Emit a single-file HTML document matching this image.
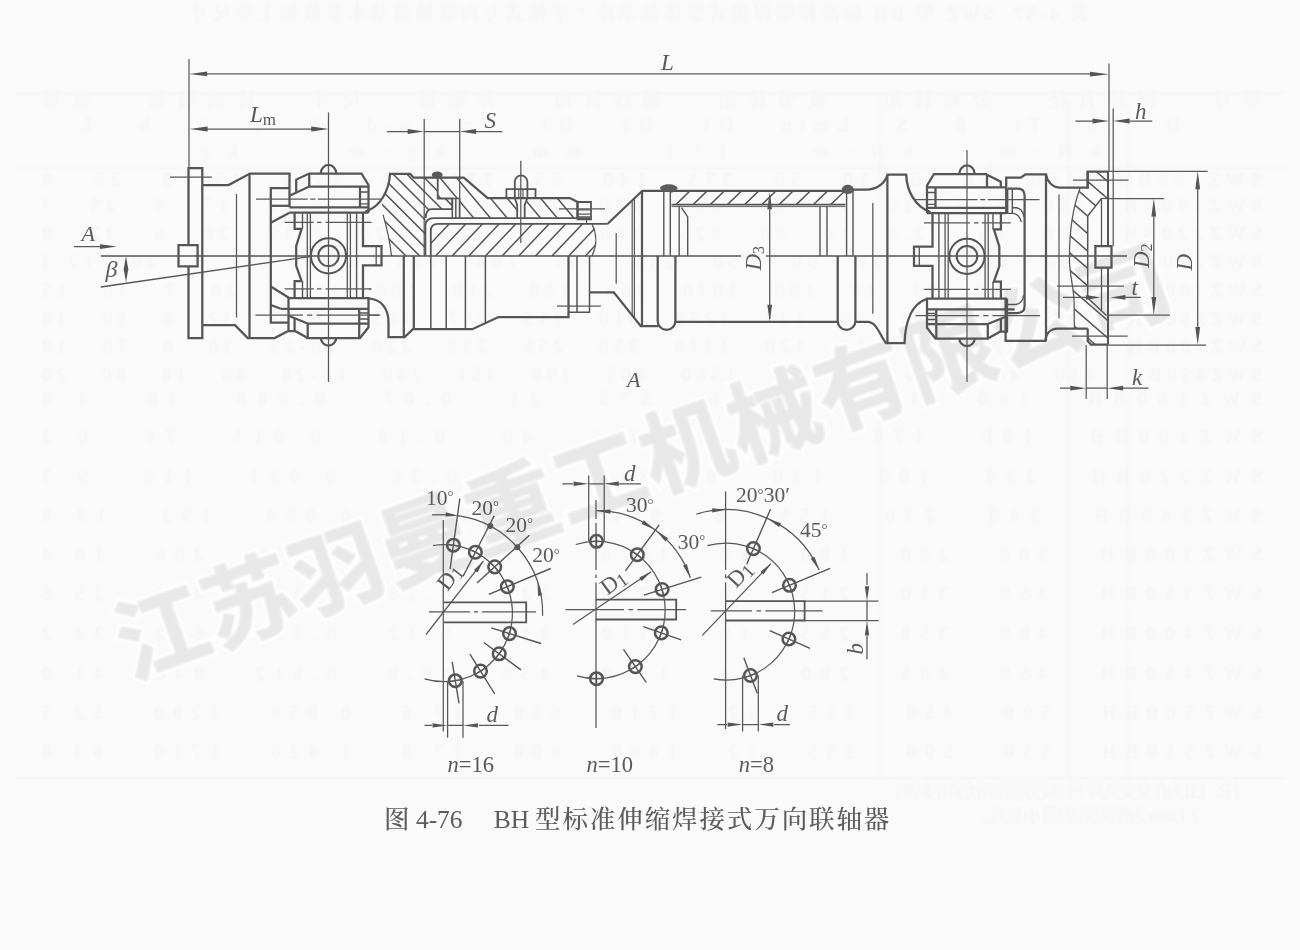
<!DOCTYPE html>
<html lang="zh">
<head>
<meta charset="utf-8">
<title>图 4-76 BH 型标准伸缩焊接式万向联轴器</title>
<style>
html,body{margin:0;padding:0;background:#fafafa;}
body{width:1300px;height:950px;overflow:hidden;position:relative;font-family:"Liberation Serif","Noto Serif CJK SC",serif;}
svg{position:absolute;left:0;top:0;display:block;}
svg text{font-family:"Liberation Serif","Noto Serif CJK SC",serif;fill:#5a5a5a;}
svg .bleed text{fill:#f4f4f4;}
.wm{font-family:"Liberation Sans","Noto Sans CJK SC",sans-serif;font-weight:bold;}
</style>
</head>
<body>
<svg width="1300" height="950" viewBox="0 0 1300 950" fill="none" stroke-linecap="butt" stroke-linejoin="miter">
<defs>
<filter id="soft" x="-2%" y="-2%" width="104%" height="104%"><feGaussianBlur stdDeviation="0.62"/></filter>
<filter id="bleedblur" x="-2%" y="-10%" width="104%" height="120%"><feGaussianBlur stdDeviation="1.1"/></filter>
<filter id="wmblur" x="-5%" y="-20%" width="110%" height="140%"><feGaussianBlur stdDeviation="0.8"/></filter>
<clipPath id="c1"><path d="M430.8,256V231Q430.8,223.8 438,223.8H592.3C597.5,234 597.5,246 593,256Z" clip-rule="evenodd"/></clipPath><clipPath id="c2"><path d="M381.5,199.5C386,193 389.5,184 390,173.8H410L413.8,177.7H437.7V198.5H452.3V209.2H431.5Q426,209.2 425.6,218L425.4,226V256H391.5C390,242 387,228 383,214.6Z" clip-rule="evenodd"/></clipPath><clipPath id="c3"><path d="M437.7,177.7H463.8L487.7,198H570L577.5,202V218.2H459.5V198.5H437.7ZM514.8,198H527.4L524.7,205V218.2H517.2V205Z" clip-rule="evenodd"/></clipPath><clipPath id="c4"><path d="M671.5,191.2H845.4V204.6H671.5Z" clip-rule="evenodd"/></clipPath><clipPath id="c5"><path d="M1087.7,171.5H1108V198.5H1101.5L1087.7,216V297.5L1106.5,315.5H1108V344.6H1091L1087.7,341V328.5H1074.6C1074,320 1074.4,312 1074,300C1073.5,288 1070,275 1069.5,262C1069,235 1072,210 1080,188.2H1087.7Z" clip-rule="evenodd"/></clipPath>
</defs>
<rect x="0" y="0" width="1300" height="950" fill="#fafafa" stroke="none"/>
<g filter="url(#bleedblur)" class="bleed"><path d="M14,93H1286M14,168H1286M14,778H1286M880,93V778M990,100V778M1068,100V778M1128,100V778" stroke="#f4f4f4" stroke-width="1.2"/><text x="0" y="0" font-size="19" transform="translate(1090,20) scale(-1,1)" xml:space="preserve" textLength="900">表 4-57  SWZ 型 BH 标准伸缩焊接式整体轴承座十字轴式万向联轴器基本参数和主要尺寸</text><text x="0" y="0" font-size="19" transform="translate(1262,107) scale(-1,1)" xml:space="preserve" textLength="1220">型号   回转直径   公称转矩   疲劳转矩   轴线折角   伸缩量   尺寸   转动惯量   质量</text><text x="0" y="0" font-size="19" transform="translate(1180,131) scale(-1,1)" xml:space="preserve" textLength="1100">D   Tn   Tf   β   S   Lmin   D1   D2   D3   Lm   n-d   k   t   b   h   L</text><text x="0" y="0" font-size="19" transform="translate(1100,157) scale(-1,1)" xml:space="preserve" textLength="900">kN·m   kN·m   (°)   mm   kg·m²   kg</text><text x="0" y="0" font-size="19" transform="translate(1262,186) scale(-1,1)" xml:space="preserve" textLength="1220">SWZ160BH   160   16   8   10   50   575   140   95   114   85   6-13   15   5   20   6</text><text x="0" y="0" font-size="19" transform="translate(1262,212) scale(-1,1)" xml:space="preserve" textLength="1220">SWZ190BH   190   31.5   16   10   60   685   170   115   133   105   8-17   17   5   25   7</text><text x="0" y="0" font-size="19" transform="translate(1262,240) scale(-1,1)" xml:space="preserve" textLength="1220">SWZ220BH   220   45   22.4   10   80   825   190   130   159   120   8-17   20   6   32   9</text><text x="0" y="0" font-size="19" transform="translate(1262,268) scale(-1,1)" xml:space="preserve" textLength="1220">SWZ260BH   260   80   40   10   90   950   230   155   194   140   8-19   25   6   40   12.5</text><text x="0" y="0" font-size="19" transform="translate(1262,297) scale(-1,1)" xml:space="preserve" textLength="1220">SWZ300BH   300   125   63   10   100   1070   260   180   219   160   10-23   28   7   40   15</text><text x="0" y="0" font-size="19" transform="translate(1262,325) scale(-1,1)" xml:space="preserve" textLength="1220">SWZ350BH   350   200   100   10   120   1250   310   215   267   185   10-23   32   8   50   16</text><text x="0" y="0" font-size="19" transform="translate(1262,353) scale(-1,1)" xml:space="preserve" textLength="1220">SWZ400BH   400   280   140   10   120   1370   358   255   299   220   10-25   36   8   70   18</text><text x="0" y="0" font-size="19" transform="translate(1262,381) scale(-1,1)" xml:space="preserve" textLength="1220">SWZ450BH   450   400   200   10   130   1560   405   290   351   240   12-28   40   10   80   20</text><text x="0" y="0" font-size="19" transform="translate(1262,405) scale(-1,1)" xml:space="preserve" textLength="1220">SWZ160BH   160   140   95   6   575   25   0.07   0.008   48   4.6</text><text x="0" y="0" font-size="19" transform="translate(1262,443) scale(-1,1)" xml:space="preserve" textLength="1220">SWZ190BH   190   170   115   8   685   40   0.18   0.015   76   6.2</text><text x="0" y="0" font-size="19" transform="translate(1262,483) scale(-1,1)" xml:space="preserve" textLength="1220">SWZ220BH   220   190   130   8   825   56   0.36   0.031   118   9.5</text><text x="0" y="0" font-size="19" transform="translate(1262,522) scale(-1,1)" xml:space="preserve" textLength="1220">SWZ260BH   260   230   155   8   950   90   0.82   0.064   192   13.8</text><text x="0" y="0" font-size="19" transform="translate(1262,561) scale(-1,1)" xml:space="preserve" textLength="1220">SWZ300BH   300   260   180   10   1070   140   1.56   0.110   286   18.4</text><text x="0" y="0" font-size="19" transform="translate(1262,600) scale(-1,1)" xml:space="preserve" textLength="1220">SWZ350BH   350   310   215   10   1250   224   3.28   0.212   456   25.6</text><text x="0" y="0" font-size="19" transform="translate(1262,640) scale(-1,1)" xml:space="preserve" textLength="1220">SWZ400BH   400   358   255   10   1370   315   6.12   0.394   662   34.2</text><text x="0" y="0" font-size="19" transform="translate(1262,680) scale(-1,1)" xml:space="preserve" textLength="1220">SWZ450BH   450   405   290   12   1560   450   10.9   0.612   948   41.0</text><text x="0" y="0" font-size="19" transform="translate(1262,719) scale(-1,1)" xml:space="preserve" textLength="1220">SWZ500BH   500   450   315   12   1710   630   17.6   0.958   1290   52.5</text><text x="0" y="0" font-size="19" transform="translate(1262,758) scale(-1,1)" xml:space="preserve" textLength="1220">SWZ550BH   550   500   355   12   1880   800   27.8   1.420   1710   63.8</text><text x="0" y="0" font-size="19" transform="translate(1240,798) scale(-1,1)" xml:space="preserve" textLength="360">注：1. Tf 为在交变负荷下按疲劳强度所允许的转矩。</text><text x="0" y="0" font-size="19" transform="translate(1200,822) scale(-1,1)" xml:space="preserve" textLength="230">2. Lmin 为缩短后的最小长度。</text></g>
<g filter="url(#wmblur)">
<text class="wm" x="0" y="0" font-size="91" letter-spacing="1.8" transform="translate(130,679) rotate(-19.5)" style="fill:#e8e8e8;stroke:#ffffff;stroke-width:7;paint-order:stroke fill;">江苏羽曼重工机械有限公司</text>
<text class="wm" x="0" y="0" font-size="91" letter-spacing="1.8" transform="translate(130,679) rotate(-19.5)" style="fill:#e8e8e8;stroke:#e8e8e8;stroke-width:1.6;">江苏羽曼重工机械有限公司</text>
</g>
<g filter="url(#soft)">
<path d="M188.5,245V168H202.3V338H188.5V266.3" stroke="#555555" stroke-width="2.25" />
<path d="M178.5,245H197.6V266.3H178.5Z" stroke="#555555" stroke-width="2.25" />
<path d="M189,59V168" stroke="#585858" stroke-width="1.25" />
<path d="M170,177H212" stroke="#585858" stroke-width="1.25" />
<path d="M202.3,185H228.5L250,173.5H289.5V207.3" stroke="#555555" stroke-width="2.25" />
<path d="M202.3,325.2H235L247.7,338H274.6L287.7,331.2" stroke="#555555" stroke-width="2.25" />
<path d="M249.5,173.5V338" stroke="#555555" stroke-width="2.25" />
<path d="M236.5,194V317.5" stroke="#585858" stroke-width="1.25" />
<path d="M289.5,188H270.8V322.7H288.5" stroke="#555555" stroke-width="2.25" />
<path d="M270.8,205.8H289.5" stroke="#555555" stroke-width="2.25" />
<path d="M270.8,222.7L289.5,212.7" stroke="#555555" stroke-width="2.25" />
<path d="M270.8,286.5L289.2,298" stroke="#555555" stroke-width="2.25" />
<path d="M270.8,305L280.8,308.8" stroke="#555555" stroke-width="2.25" />
<path d="M296.2,192.6V179.6L309.2,173.5H361.5L368.5,185V212.7" stroke="#555555" stroke-width="2.25" />
<path d="M289.5,195.8L309.2,186.5H368.5" stroke="#555555" stroke-width="2.25" />
<path d="M309.2,173.5V186.5" stroke="#555555" stroke-width="2.25" />
<path d="M289.5,207.3H368.5" stroke="#555555" stroke-width="2.25" />
<path d="M289.5,212.7H368.5" stroke="#555555" stroke-width="2.25" />
<path d="M360,186.5V207.3" stroke="#555555" stroke-width="2.25" />
<path d="M360,192H368.5M360,203.8H368.5" stroke="#555555" stroke-width="1.3" />
<path d="M320.8,173.5A7.7,8.5 0 0 1 336.2,173.5" stroke="#555555" stroke-width="2.25" />
<path d="M288.5,298H368.5V327.3L360,338H307.7V323.5" stroke="#555555" stroke-width="2.25" />
<path d="M280.8,308.8H368.5" stroke="#555555" stroke-width="2.25" />
<path d="M307.7,323.5H368.5" stroke="#555555" stroke-width="2.25" />
<path d="M359.2,308.8V338" stroke="#555555" stroke-width="2.25" />
<path d="M288.5,315.8L307.7,323.5" stroke="#555555" stroke-width="2.25" />
<path d="M288.5,298V331.2H295.4L307.7,338" stroke="#555555" stroke-width="2.25" />
<path d="M294.6,318.2V331.2" stroke="#555555" stroke-width="2.25" />
<path d="M359.2,313H368.5M359.2,319H368.5" stroke="#555555" stroke-width="1.3" />
<path d="M320.8,338A7.7,7.5 0 0 0 336.2,338" stroke="#555555" stroke-width="2.25" />
<path d="M307.3,212.7V298" stroke="#555555" stroke-width="1.3" />
<path d="M310.4,212.7V298" stroke="#555555" stroke-width="1.3" />
<path d="M347.3,212.7V298" stroke="#555555" stroke-width="1.3" />
<path d="M350.4,212.7V298" stroke="#555555" stroke-width="1.3" />
<path d="M356.6,212.7V298" stroke="#555555" stroke-width="1.4" />
<path d="M294.6,212.7V228.8H301.6L296.2,245.8V265.8L301.6,281.2H294.6V298" stroke="#555555" stroke-width="2.25" />
<path d="M302.5,212.7V228.8M302.5,281.2V298" stroke="#555555" stroke-width="1.4" />
<path d="M363,212.7V246.2H381.5V265.4H363V298" stroke="#555555" stroke-width="2.25" />
<path d="M376.2,246.2V265.4" stroke="#555555" stroke-width="1.3" />
<circle cx="328.5" cy="255.8" r="17.6" stroke="#555555" stroke-width="2"/>
<circle cx="328.5" cy="255.8" r="10.3" stroke="#555555" stroke-width="2"/>
<path d="M256,199.2H307.7M310.2,199.2H315.4M317.9,199.2H381" stroke="#585858" stroke-width="1.25" />
<path d="M284.6,222.4H313.8M317,222.4H321.5M325.5,222.4H371.5" stroke="#585858" stroke-width="1.25" />
<path d="M284.6,288.8H313.8M317,288.8H321.5M325.5,288.8H371.5" stroke="#585858" stroke-width="1.25" />
<path d="M255.4,315H303M307,315H312.3M316.5,315H380" stroke="#585858" stroke-width="1.25" />
<path d="M328.5,112.5V382" stroke="#585858" stroke-width="1.25" />
<g transform="translate(1295.5,0.5) scale(-1,1)"><path d="M308.5,173.5H361.5L368.5,185V212.7" stroke="#555555" stroke-width="2.25" /><path d="M308.5,173.5V186.8M308.5,174.2L294.7,181.2V186.8" stroke="#555555" stroke-width="2.25" /><path d="M289.3,186.8H368.5" stroke="#555555" stroke-width="2.25" /><path d="M289.5,207.3H368.5" stroke="#555555" stroke-width="2.25" /><path d="M289.5,212.7H368.5" stroke="#555555" stroke-width="2.25" /><path d="M360,186.5V207.3" stroke="#555555" stroke-width="2.25" /><path d="M360,192H368.5M360,203.8H368.5" stroke="#555555" stroke-width="1.3" /><path d="M320.8,173.5A7.7,8.5 0 0 1 336.2,173.5" stroke="#555555" stroke-width="2.25" /><path d="M288.5,298H368.5V327.3L360,338H307.7V323.5" stroke="#555555" stroke-width="2.25" /><path d="M280.8,308.8H368.5" stroke="#555555" stroke-width="2.25" /><path d="M307.7,323.5H368.5" stroke="#555555" stroke-width="2.25" /><path d="M359.2,308.8V338" stroke="#555555" stroke-width="2.25" /><path d="M288.5,315.8L307.7,323.5" stroke="#555555" stroke-width="2.25" /><path d="M288.5,298V331.2H295.4L307.7,338" stroke="#555555" stroke-width="2.25" /><path d="M294.6,318.2V331.2" stroke="#555555" stroke-width="2.25" /><path d="M359.2,313H368.5M359.2,319H368.5" stroke="#555555" stroke-width="1.3" /><path d="M320.8,338A7.7,7.5 0 0 0 336.2,338" stroke="#555555" stroke-width="2.25" /><path d="M307.3,212.7V298" stroke="#555555" stroke-width="1.3" /><path d="M310.4,212.7V298" stroke="#555555" stroke-width="1.3" /><path d="M347.3,212.7V298" stroke="#555555" stroke-width="1.3" /><path d="M350.4,212.7V298" stroke="#555555" stroke-width="1.3" /><path d="M356.6,212.7V298" stroke="#555555" stroke-width="1.4" /><path d="M294.6,212.7V228.8H301.6L296.2,245.8V265.8L301.6,281.2H294.6V298" stroke="#555555" stroke-width="2.25" /><path d="M302.5,212.7V228.8M302.5,281.2V298" stroke="#555555" stroke-width="1.4" /><path d="M363,212.7V246.2H381.5V265.4H363V298" stroke="#555555" stroke-width="2.25" /><path d="M376.2,246.2V265.4" stroke="#555555" stroke-width="1.3" /><circle cx="328.5" cy="255.8" r="17.6" stroke="#555555" stroke-width="2"/><circle cx="328.5" cy="255.8" r="10.3" stroke="#555555" stroke-width="2"/><path d="M256,199.2H307.7M310.2,199.2H315.4M317.9,199.2H381" stroke="#585858" stroke-width="1.25" /><path d="M284.6,222.4H313.8M317,222.4H321.5M325.5,222.4H371.5" stroke="#585858" stroke-width="1.25" /><path d="M284.6,288.8H313.8M317,288.8H321.5M325.5,288.8H371.5" stroke="#585858" stroke-width="1.25" /><path d="M255.4,315H303M307,315H312.3M316.5,315H380" stroke="#585858" stroke-width="1.25" /></g>
<path d="M967,150V382" stroke="#585858" stroke-width="1.25" />
<path d="M365.4,211.5C380.8,207 389.2,190 390,173.8H410L413.8,177.7H463.8L487.7,198H570L577.5,202V218.2" stroke="#555555" stroke-width="2.25" />
<path d="M383,214.6C387,228 390,242 391.5,256" stroke="#585858" stroke-width="1.25" />
<path d="M591,218.2H433.8Q425.4,218.2 425.4,226V256" stroke="#555555" stroke-width="1.8" />
<path d="M607.7,223.8H438Q430.8,223.8 430.8,231V256" stroke="#555555" stroke-width="1.8" />
<path d="M425.6,218Q426,209.2 431.5,209.2H452.3V198.5H437.7V177.7" stroke="#555555" stroke-width="1.8" />
<path d="M452.3,198.5H459.5V218.2M452.3,198.5V218.2M455.8,198.5V218.2" stroke="#555555" stroke-width="1.5" />
<path d="M424.2,119V256" stroke="#585858" stroke-width="1.25" />
<path d="M459.7,119V217.7" stroke="#585858" stroke-width="1.25" />
<ellipse cx="437.2" cy="175" rx="5.4" ry="3.4" fill="#5a5a5a" stroke="none"/>
<path d="M506.4,198V189.2H535.5V198" stroke="#555555" stroke-width="1.8" />
<path d="M514.8,198V182A6.3,6.6 0 0 1 527.4,182V198L524.7,205V218.2M517.2,218.2V205L514.8,198" stroke="#555555" stroke-width="1.8" />
<path d="M518.8,189.2V198M523,189.2V198" stroke="#585858" stroke-width="1.1" />
<path d="M520.8,160.8V243" stroke="#585858" stroke-width="1.25" />
<path d="M577.5,202H591V219.3H577.5Z" stroke="#555555" stroke-width="1.8" />
<path d="M577.5,209.8H590M577.5,214.2H590M577.5,216.8H590" stroke="#585858" stroke-width="1.2" />
<path d="M586.6,219.3V223.8" stroke="#585858" stroke-width="1.2" />
<path d="M559,208.9H605" stroke="#585858" stroke-width="1.25" />
<path d="M592,224C597,234 597,246 592,256" stroke="#585858" stroke-width="1.25" />
<path d="M402.2,256.0L432.8,223.8M418.8,256.0L449.4,223.8M435.5,256.0L466.0,223.8M452.1,256.0L482.7,223.8M468.8,256.0L499.3,223.8M485.4,256.0L516.0,223.8M502.1,256.0L532.6,223.8M518.7,256.0L549.3,223.8M535.4,256.0L565.9,223.8M552.0,256.0L582.6,223.8M568.7,256.0L599.2,223.8M585.3,256.0L615.9,223.8M602.0,256.0L632.5,223.8M618.6,256.0L649.2,223.8" stroke="#555555" stroke-width="1.5" clip-path="url(#c1)"/>
<path d="M251.0,170.0L341.0,260.0M264.8,170.0L354.8,260.0M278.6,170.0L368.6,260.0M292.4,170.0L382.4,260.0M306.2,170.0L396.2,260.0M320.0,170.0L410.0,260.0M333.8,170.0L423.8,260.0M347.6,170.0L437.6,260.0M361.4,170.0L451.4,260.0M375.2,170.0L465.2,260.0M389.0,170.0L479.0,260.0M402.8,170.0L492.8,260.0M416.6,170.0L506.6,260.0M430.4,170.0L520.4,260.0M444.2,170.0L534.2,260.0M458.0,170.0L548.0,260.0M471.8,170.0L561.8,260.0M485.6,170.0L575.6,260.0M499.4,170.0L589.4,260.0M513.2,170.0L603.2,260.0M527.0,170.0L617.0,260.0M540.8,170.0L630.8,260.0M554.6,170.0L644.6,260.0" stroke="#555555" stroke-width="1.5" clip-path="url(#c2)"/>
<path d="M266.4,170.0L342.0,260.0M283.1,170.0L358.7,260.0M299.8,170.0L375.4,260.0M316.5,170.0L392.1,260.0M333.2,170.0L408.8,260.0M349.9,170.0L425.5,260.0M366.6,170.0L442.2,260.0M383.3,170.0L458.9,260.0M400.0,170.0L475.6,260.0M416.7,170.0L492.3,260.0M433.4,170.0L509.0,260.0M450.1,170.0L525.7,260.0M466.8,170.0L542.4,260.0M483.5,170.0L559.1,260.0M500.2,170.0L575.8,260.0M516.9,170.0L592.5,260.0M533.6,170.0L609.2,260.0M550.3,170.0L625.9,260.0M567.0,170.0L642.6,260.0M583.7,170.0L659.3,260.0M600.4,170.0L676.0,260.0M617.1,170.0L692.7,260.0M633.8,170.0L709.4,260.0M650.5,170.0L726.1,260.0" stroke="#555555" stroke-width="1.5" clip-path="url(#c3)"/>
<path d="M369.2,298.5C381,299.5 388.5,308 388.5,322.3V337H404.6L413,329.2H472.3L498.5,317H568.5V256" stroke="#555555" stroke-width="2.25" />
<path d="M403.8,256V337M413.8,256V329.2" stroke="#555555" stroke-width="2.25" />
<path d="M430.8,256V329.2M446.2,256V329.2M465.4,256V329.2M485.4,256V323" stroke="#555555" stroke-width="1.5" />
<path d="M568.5,312.3H589.5V256" stroke="#555555" stroke-width="1.5" />
<path d="M577,256V312.3" stroke="#555555" stroke-width="1.5" />
<path d="M557,306.2H600.8" stroke="#585858" stroke-width="1.25" />
<path d="M369,289.2H371M369,315H379" stroke="#585858" stroke-width="1.25" />
<path d="M589.5,292.3H613.8L640.8,326.2H658.5" stroke="#555555" stroke-width="2.25" />
<path d="M616.2,233V283.8" stroke="#585858" stroke-width="1.25" />
<path d="M632.2,200.5V315.5M634.4,198.5V318" stroke="#585858" stroke-width="1.2" />
<path d="M642,190.8V326.2" stroke="#555555" stroke-width="2.25" />
<path d="M607.7,223.8L642.3,190.8H853" stroke="#555555" stroke-width="2.25" />
<path d="M671.5,204.6H845.4" stroke="#555555" stroke-width="1.6" />
<path d="M671.5,206.6H845.4" stroke="#585858" stroke-width="0.9" />
<path d="M663.8,191V256M670.3,191V256" stroke="#555555" stroke-width="1.4" />
<path d="M679.2,206V256" stroke="#555555" stroke-width="1.4" />
<path d="M681.5,207.7L687.7,216.9V256" stroke="#555555" stroke-width="1.4" />
<path d="M820,206V256M827,206V256" stroke="#555555" stroke-width="1.4" />
<path d="M846.6,191V256M853,190V256" stroke="#555555" stroke-width="1.4" />
<ellipse cx="668.8" cy="188" rx="8.8" ry="3.7" fill="#5c5c5c" stroke="none"/>
<ellipse cx="847.8" cy="189.4" rx="6" ry="4.6" fill="#5c5c5c" stroke="none"/>
<path d="M658.7,204.6L672.5,191.2M675.9,204.6L689.7,191.2M693.1,204.6L706.9,191.2M710.3,204.6L724.1,191.2M727.5,204.6L741.3,191.2M744.7,204.6L758.5,191.2M761.9,204.6L775.7,191.2M779.1,204.6L792.9,191.2M796.3,204.6L810.1,191.2M813.5,204.6L827.3,191.2M830.7,204.6L844.5,191.2M847.9,204.6L861.7,191.2" stroke="#555555" stroke-width="1.5" clip-path="url(#c4)"/>
<path d="M657.7,256V321A8.85,8.85 0 0 0 675.4,321V256" stroke="#555555" stroke-width="2.25" />
<path d="M675.4,321.8H837.7" stroke="#555555" stroke-width="2.25" />
<path d="M837.7,256V321A8.85,8.85 0 0 0 855.4,321V256" stroke="#555555" stroke-width="2.25" />
<path d="M769.7,195V319" stroke="#585858" stroke-width="1.25" />
<path d="M769.7,192.3L772.1,209.3L767.3,209.3Z" fill="#555555" stroke="none"/>
<path d="M769.7,321.8L767.3,304.8L772.1,304.8Z" fill="#555555" stroke="none"/>
<path d="M853,189.7H866C878,189 884.5,184 887.7,174.6H906.2C906.6,190 914.7,207 930.5,212" stroke="#555555" stroke-width="2.25" />
<path d="M887.4,174.6V343" stroke="#555555" stroke-width="2.25" />
<path d="M872.8,203V313.8" stroke="#585858" stroke-width="1.25" />
<path d="M855.4,321.8H867.7C877,322 880,336 886,343H904.6C905,322 912,303 927,299" stroke="#555555" stroke-width="2.25" />
<path d="M1006.2,213.8V177.7H1020.8L1025.4,174.3H1046C1047,181 1052,187.7 1060.8,187.7H1087.7V171.5H1108" stroke="#555555" stroke-width="2.25" />
<path d="M1046,174.3V340.8" stroke="#555555" stroke-width="2.25" />
<path d="M1059,194.6V318.5" stroke="#585858" stroke-width="1.25" />
<path d="M1007.7,188.5H1018Q1024.6,188.5 1024.6,196V306Q1024.6,313 1017,313H1005.6" stroke="#555555" stroke-width="2.25" />
<path d="M1007.7,188.5V213.8M1012.3,188.5V213.8" stroke="#555555" stroke-width="1.4" />
<path d="M1012.3,207.7H1016.5Q1022.5,208.5 1024,217" stroke="#555555" stroke-width="1.4" />
<path d="M1006.2,213.4H1013Q1019,214 1021.5,222" stroke="#555555" stroke-width="1.4" />
<path d="M1006,304.5H1016Q1022.5,303.5 1023.8,295" stroke="#555555" stroke-width="1.4" />
<path d="M1005.6,299V340.8H1045.4C1046,334 1050,328.5 1057.7,328.5H1087.7" stroke="#555555" stroke-width="2.25" />
<path d="M1087.7,171.5V188.5" stroke="#555555" stroke-width="2.25" />
<path d="M1087.7,216V297.5" stroke="#555555" stroke-width="1.5" />
<path d="M1087.7,328.5V341L1091,344.6H1108" stroke="#555555" stroke-width="2.25" />
<path d="M1108,171.5V246M1108,267.7V344.6" stroke="#555555" stroke-width="2.0" />
<path d="M1101.5,198.5L1087.7,216" stroke="#555555" stroke-width="1.5" />
<path d="M1086.6,297L1106.5,315.5" stroke="#555555" stroke-width="1.5" />
<path d="M1101.5,198.5V246M1101.5,267.7V311" stroke="#555555" stroke-width="1.3" />
<path d="M1101.5,198.5H1108" stroke="#585858" stroke-width="1.2" />
<path d="M1080,188.2C1072,210 1069,235 1069.5,262C1070,275 1073.5,288 1074,300C1074.4,312 1074,320 1074.6,328.5" stroke="#585858" stroke-width="1.25" />
<path d="M1095.4,246H1111.5V267.7H1095.4Z" stroke="#555555" stroke-width="2.25" />
<path d="M1073,180H1128.5" stroke="#585858" stroke-width="1.25" />
<path d="M1072,336H1127.7" stroke="#585858" stroke-width="1.25" />
<path d="M688.8,165.0L901.5,350.0M708.8,165.0L921.5,350.0M728.8,165.0L941.5,350.0M748.8,165.0L961.5,350.0M768.8,165.0L981.5,350.0M788.8,165.0L1001.5,350.0M808.8,165.0L1021.5,350.0M828.8,165.0L1041.5,350.0M848.8,165.0L1061.5,350.0M868.8,165.0L1081.5,350.0M888.8,165.0L1101.5,350.0M908.8,165.0L1121.5,350.0M928.8,165.0L1141.5,350.0M948.8,165.0L1161.5,350.0M968.8,165.0L1181.5,350.0M988.8,165.0L1201.5,350.0M1008.8,165.0L1221.5,350.0M1028.8,165.0L1241.5,350.0M1048.8,165.0L1261.5,350.0M1068.8,165.0L1281.5,350.0M1088.8,165.0L1301.5,350.0M1108.8,165.0L1321.5,350.0M1128.8,165.0L1341.5,350.0M1148.8,165.0L1361.5,350.0M1168.8,165.0L1381.5,350.0M1188.8,165.0L1401.5,350.0M1208.8,165.0L1421.5,350.0M1228.8,165.0L1441.5,350.0M1248.8,165.0L1461.5,350.0M1268.8,165.0L1481.5,350.0M1288.8,165.0L1501.5,350.0M1308.8,165.0L1521.5,350.0" stroke="#555555" stroke-width="1.5" clip-path="url(#c5)"/>
<path d="M100.8,256H741M766,256H1127" stroke="#555555" stroke-width="1.3" />
<path d="M100.8,287L311,256.4" stroke="#555555" stroke-width="1.4" />
<path d="M73.8,246.6H104" stroke="#585858" stroke-width="1.25" />
<path d="M117.0,246.6L100.0,249.0L100.0,244.2Z" fill="#555555" stroke="none"/>
<text x="81.5" y="240.8" font-size="22" font-style="italic" text-anchor="start" >A</text>
<text x="105.5" y="276.5" font-size="24" font-style="italic" text-anchor="start" >β</text>
<path d="M126,256L128.3,269.2L126,282.3L123.7,269.2Z" fill="#555555" stroke="none"/>
<path d="M207,73.9H1091" stroke="#585858" stroke-width="1.25" />
<path d="M189.2,73.9L207.2,71.5L207.2,76.3Z" fill="#555555" stroke="none"/>
<path d="M1109.0,74.2L1090.0,76.6L1090.0,71.8Z" fill="#555555" stroke="none"/>
<text x="661.0" y="70.0" font-size="23" font-style="italic" text-anchor="start" >L</text>
<path d="M207,129H312" stroke="#585858" stroke-width="1.25" />
<path d="M189.6,129.0L207.6,126.6L207.6,131.4Z" fill="#555555" stroke="none"/>
<path d="M329.2,129.0L311.2,131.4L311.2,126.6Z" fill="#555555" stroke="none"/>
<text x="250.0" y="122.3" font-size="23" font-style="italic" text-anchor="start" >L<tspan font-style="normal" font-size="17" dy="2.5">m</tspan></text>
<path d="M387,131.5H408M441,131.5H443M476,131.5H502.3M424.2,131.5H459.7" stroke="#585858" stroke-width="1.25" />
<path d="M424.2,131.5L407.7,133.9L407.7,129.1Z" fill="#555555" stroke="none"/>
<path d="M459.7,131.5L476.2,129.1L476.2,133.9Z" fill="#555555" stroke="none"/>
<text x="484.5" y="127.5" font-size="23" font-style="italic" text-anchor="start" >S</text>
<path d="M1109,63.5V171.5" stroke="#585858" stroke-width="1.25" />
<path d="M1113.2,108.5V246" stroke="#585858" stroke-width="1.25" />
<path d="M1075.4,121H1093M1130,121H1152.3" stroke="#585858" stroke-width="1.25" />
<path d="M1109.0,121.0L1092.5,123.4L1092.5,118.6Z" fill="#555555" stroke="none"/>
<path d="M1113.2,121.0L1129.7,118.6L1129.7,123.4Z" fill="#555555" stroke="none"/>
<text x="1135.0" y="118.5" font-size="23" font-style="italic" text-anchor="start" >h</text>
<path d="M1108,171.3H1207.7M1108,345H1206" stroke="#585858" stroke-width="1.25" />
<path d="M1197.7,188V328" stroke="#585858" stroke-width="1.25" />
<path d="M1197.7,171.3L1200.1,189.3L1195.3,189.3Z" fill="#555555" stroke="none"/>
<path d="M1197.7,345.0L1195.3,327.0L1200.1,327.0Z" fill="#555555" stroke="none"/>
<text x="1192.0" y="270.5" font-size="23" font-style="italic" text-anchor="start" transform="rotate(-90 1192.0 270.5)" >D</text>
<path d="M1108,198.5H1163.8M1108,315H1170" stroke="#585858" stroke-width="1.25" />
<path d="M1153.8,215V298" stroke="#585858" stroke-width="1.25" />
<path d="M1153.8,198.5L1156.2,216.5L1151.4,216.5Z" fill="#555555" stroke="none"/>
<path d="M1153.8,315.0L1151.4,297.0L1156.2,297.0Z" fill="#555555" stroke="none"/>
<text x="1149.0" y="268.0" font-size="23" font-style="italic" text-anchor="start" transform="rotate(-90 1149.0 268.0)" >D<tspan font-style="normal" font-size="16" dy="3">2</tspan></text>
<path d="M1057,286.2H1124" stroke="#585858" stroke-width="1.25" />
<path d="M1063,297.4H1086M1124,297.4H1140.8" stroke="#585858" stroke-width="1.25" />
<path d="M1100.8,297.4L1085.8,299.8L1085.8,295.0Z" fill="#555555" stroke="none"/>
<path d="M1110.5,297.4L1125.5,295.0L1125.5,299.8Z" fill="#555555" stroke="none"/>
<text x="1131.5" y="294.6" font-size="23" font-style="italic" text-anchor="start" >t</text>
<path d="M1086.2,345V399M1107.2,345V399" stroke="#585858" stroke-width="1.25" />
<path d="M1060,388.2H1070M1123,388.2H1148.5M1086.2,388.2H1107.2" stroke="#585858" stroke-width="1.25" />
<path d="M1086.2,388.2L1070.2,390.6L1070.2,385.8Z" fill="#555555" stroke="none"/>
<path d="M1107.2,388.2L1123.2,385.8L1123.2,390.6Z" fill="#555555" stroke="none"/>
<text x="1132.0" y="385.4" font-size="23" font-style="italic" text-anchor="start" >k</text>
<text x="760.5" y="270.5" font-size="23" font-style="italic" text-anchor="start" transform="rotate(-90 760.5 270.5)" >D<tspan font-style="normal" font-size="16" dy="3">3</tspan></text>
<text x="627.0" y="387.0" font-size="22" font-style="italic" text-anchor="start" >A</text>
<path d="M443.8,602.3H526.2V622.3H443.8" stroke="#555555" stroke-width="1.8" />
<path d="M429,611.8H470M474,611.8H478M482,611.8H536" stroke="#585858" stroke-width="1.25" />
<path d="M443.3,520V731.5" stroke="#585858" stroke-width="1.25" />
<path d="M432.8,545.5A68.5,68.5 0 1 1 424.6,678.8" stroke="#585858" stroke-width="1.25" />
<circle cx="453.4" cy="545.2" r="6.3" stroke="#555555" stroke-width="2.5"/>
<path d="M450.1,569.0L459.8,498.7" stroke="#555555" stroke-width="1.4" />
<path d="M448.6,544.6L458.2,545.9" stroke="#585858" stroke-width="1.25" />
<circle cx="475.4" cy="552.2" r="6.3" stroke="#555555" stroke-width="2.5"/>
<path d="M463.1,576.2L494.2,515.7" stroke="#555555" stroke-width="1.4" />
<path d="M471.1,550.0L479.7,554.4" stroke="#585858" stroke-width="1.25" />
<circle cx="494.7" cy="566.9" r="6.3" stroke="#555555" stroke-width="2.5"/>
<path d="M477.0,583.1L529.4,535.2" stroke="#555555" stroke-width="1.4" />
<path d="M491.4,563.4L497.9,570.5" stroke="#585858" stroke-width="1.25" />
<circle cx="507.3" cy="586.7" r="6.3" stroke="#555555" stroke-width="2.5"/>
<path d="M488.8,594.4L550.7,568.5" stroke="#555555" stroke-width="1.4" />
<path d="M505.4,582.2L509.1,591.1" stroke="#585858" stroke-width="1.25" />
<circle cx="509.5" cy="633.6" r="6.3" stroke="#555555" stroke-width="2.5"/>
<path d="M491.3,627.9L541.0,643.5" stroke="#555555" stroke-width="1.4" />
<path d="M510.9,629.0L508.0,638.2" stroke="#585858" stroke-width="1.25" />
<circle cx="499.2" cy="653.8" r="6.3" stroke="#555555" stroke-width="2.5"/>
<path d="M483.9,642.5L520.9,669.9" stroke="#555555" stroke-width="1.4" />
<path d="M502.0,650.0L496.3,657.7" stroke="#585858" stroke-width="1.25" />
<circle cx="480.5" cy="671.1" r="6.3" stroke="#555555" stroke-width="2.5"/>
<path d="M469.9,654.2L494.8,694.0" stroke="#555555" stroke-width="1.4" />
<path d="M484.6,668.6L476.4,673.7" stroke="#585858" stroke-width="1.25" />
<circle cx="455.3" cy="680.7" r="6.3" stroke="#555555" stroke-width="2.5"/>
<path d="M452.2,661.9L459.0,703.4" stroke="#555555" stroke-width="1.4" />
<path d="M460.0,679.9L450.6,681.5" stroke="#585858" stroke-width="1.25" />
<path d="M457.8,515.6A98.5,98.5 0 0 1 542.6,615.7" stroke="#585858" stroke-width="1.25" />
<path d="M432,514.8H446" stroke="#585858" stroke-width="1.25" />
<path d="M458.7,515.7L445.5,516.4L445.9,512.2Z" fill="#555555" stroke="none"/>
<path d="M537.5,581.8L542.2,595.2L538.1,596.0Z" fill="#555555" stroke="none"/>
<circle cx="490.3" cy="526.1" r="3" fill="#555555" stroke="none"/>
<circle cx="517.3" cy="547.2" r="3" fill="#555555" stroke="none"/>
<path d="M426,634.5L483.5,560.8" stroke="#585858" stroke-width="1.25" />
<path d="M483.5,560.8L477.4,572.4L474.0,569.9Z" fill="#555555" stroke="none"/>
<text x="447.4" y="592.0" font-size="23"  text-anchor="start" transform="rotate(-52 447.4 592.0)" >D<tspan font-size="19" dy="2.5">1</tspan></text>
<text x="426.0" y="504.5" font-size="21.5"  text-anchor="start" >10<tspan font-size="15" dy="-3.5">°</tspan><tspan dy="3.5" font-size="1"> </tspan></text>
<text x="471.5" y="514.6" font-size="21.5"  text-anchor="start" >20<tspan font-size="15" dy="-3.5">°</tspan><tspan dy="3.5" font-size="1"> </tspan></text>
<text x="505.4" y="531.5" font-size="21.5"  text-anchor="start" >20<tspan font-size="15" dy="-3.5">°</tspan><tspan dy="3.5" font-size="1"> </tspan></text>
<text x="532.3" y="562.3" font-size="21.5"  text-anchor="start" >20<tspan font-size="15" dy="-3.5">°</tspan><tspan dy="3.5" font-size="1"> </tspan></text>
<path d="M447.6,681V737.7M463,681V737.7" stroke="#585858" stroke-width="1.25" />
<path d="M424.6,725.4H432M479,725.4H508.5M447.5,725.4H463" stroke="#585858" stroke-width="1.25" />
<path d="M447.5,725.4L432.5,727.6L432.5,723.2Z" fill="#555555" stroke="none"/>
<path d="M463.0,725.4L478.0,723.2L478.0,727.6Z" fill="#555555" stroke="none"/>
<text x="486.5" y="722.3" font-size="23" font-style="italic" text-anchor="start" >d</text>
<text x="447.5" y="771.5" font-size="22.5"  text-anchor="start" ><tspan font-style="italic">n</tspan>=16</text>
<path d="M595.7,599.7H676.2V619.5H595.7" stroke="#555555" stroke-width="1.8" />
<path d="M565.4,609.5H624M628.5,609.5H633M637.5,609.5H686" stroke="#585858" stroke-width="1.25" />
<path d="M596,500V519M596,523V570M596,574.5V578M596,582.5V728" stroke="#585858" stroke-width="1.25" />
<path d="M575.8,544.5A68.7,68.7 0 1 1 577.0,675.9" stroke="#585858" stroke-width="1.25" />
<circle cx="596.5" cy="541.3" r="6.3" stroke="#555555" stroke-width="2.5"/>
<path d="M596.5,547.3L596.5,535.3" stroke="#555555" stroke-width="1.4" />
<path d="M591.7,541.3L601.3,541.3" stroke="#585858" stroke-width="1.25" />
<circle cx="637.3" cy="554.7" r="6.3" stroke="#555555" stroke-width="2.5"/>
<path d="M625.4,570.8L659.2,524.9" stroke="#555555" stroke-width="1.4" />
<path d="M633.4,551.9L641.1,557.6" stroke="#585858" stroke-width="1.25" />
<circle cx="662.1" cy="589.5" r="6.3" stroke="#555555" stroke-width="2.5"/>
<path d="M643.9,595.1L701.2,577.2" stroke="#555555" stroke-width="1.4" />
<path d="M660.6,584.9L663.5,594.0" stroke="#585858" stroke-width="1.25" />
<circle cx="661.3" cy="632.9" r="6.3" stroke="#555555" stroke-width="2.5"/>
<path d="M643.3,626.6L681.1,639.9" stroke="#555555" stroke-width="1.4" />
<path d="M662.9,628.4L659.7,637.5" stroke="#585858" stroke-width="1.25" />
<circle cx="635.4" cy="666.6" r="6.3" stroke="#555555" stroke-width="2.5"/>
<path d="M623.5,649.3L646.2,682.3" stroke="#555555" stroke-width="1.4" />
<path d="M639.4,663.9L631.5,669.3" stroke="#585858" stroke-width="1.25" />
<circle cx="596.5" cy="678.7" r="6.3" stroke="#555555" stroke-width="2.5"/>
<path d="M596.5,672.7L596.5,684.7" stroke="#555555" stroke-width="1.4" />
<path d="M601.3,678.7L591.7,678.7" stroke="#585858" stroke-width="1.25" />
<path d="M596.5,510.7A99.3,99.3 0 0 1 690.4,577.7" stroke="#585858" stroke-width="1.25" />
<path d="M596.5,510.7L610.6,509.6L610.3,513.8Z" fill="#555555" stroke="none"/>
<path d="M654.6,529.5L641.6,523.9L643.8,520.3Z" fill="#555555" stroke="none"/>
<path d="M656.3,530.7L668.2,538.3L665.4,541.5Z" fill="#555555" stroke="none"/>
<path d="M690.4,577.7L683.0,565.6L686.9,564.0Z" fill="#555555" stroke="none"/>
<path d="M573,624.6L651.1,571.7" stroke="#585858" stroke-width="1.25" />
<path d="M651.1,571.7L641.7,580.9L639.3,577.5Z" fill="#555555" stroke="none"/>
<text x="607.2" y="595.8" font-size="23"  text-anchor="start" transform="rotate(-36 607.2 595.8)" >D<tspan font-size="19" dy="2.5">1</tspan></text>
<text x="626.0" y="512.3" font-size="21.5"  text-anchor="start" >30<tspan font-size="15" dy="-3.5">°</tspan><tspan dy="3.5" font-size="1"> </tspan></text>
<text x="677.7" y="548.5" font-size="21.5"  text-anchor="start" >30<tspan font-size="15" dy="-3.5">°</tspan><tspan dy="3.5" font-size="1"> </tspan></text>
<path d="M588.7,475.4V541M604.2,475.4V541" stroke="#585858" stroke-width="1.25" />
<path d="M562.3,483.8H573M619,483.8H640.8M588.5,483.8H603.8" stroke="#585858" stroke-width="1.25" />
<path d="M588.5,483.8L573.5,486.0L573.5,481.6Z" fill="#555555" stroke="none"/>
<path d="M603.8,483.8L618.8,481.6L618.8,486.0Z" fill="#555555" stroke="none"/>
<text x="624.0" y="480.8" font-size="23" font-style="italic" text-anchor="start" >d</text>
<text x="586.5" y="772.0" font-size="22.5"  text-anchor="start" ><tspan font-style="italic">n</tspan>=10</text>
<path d="M725.7,601.2H804.6V620.5H725.7" stroke="#555555" stroke-width="1.8" />
<path d="M804.6,601.2H878.5M804.6,620.5H878.5" stroke="#585858" stroke-width="1.25" />
<path d="M710.8,610.8H752M756.5,610.8H761M765.5,610.8H822.6" stroke="#585858" stroke-width="1.25" />
<path d="M725.6,491.5V570M725.6,574.5V578M725.6,582.5V729" stroke="#585858" stroke-width="1.25" />
<path d="M707.3,545.7A68.5,68.5 0 1 1 713.7,678.9" stroke="#585858" stroke-width="1.25" />
<circle cx="753.4" cy="548.6" r="6.3" stroke="#555555" stroke-width="2.5"/>
<path d="M746.7,564.2L770.5,509.2" stroke="#555555" stroke-width="1.4" />
<path d="M749.0,546.7L757.8,550.5" stroke="#585858" stroke-width="1.25" />
<circle cx="789.5" cy="585.3" r="6.3" stroke="#555555" stroke-width="2.5"/>
<path d="M771.9,592.6L830.1,568.4" stroke="#555555" stroke-width="1.4" />
<path d="M787.6,580.9L791.3,589.7" stroke="#585858" stroke-width="1.25" />
<circle cx="788.9" cy="639.0" r="6.3" stroke="#555555" stroke-width="2.5"/>
<path d="M769.7,630.6L810.0,648.3" stroke="#555555" stroke-width="1.4" />
<path d="M790.9,634.6L787.0,643.4" stroke="#585858" stroke-width="1.25" />
<circle cx="750.5" cy="675.5" r="6.3" stroke="#555555" stroke-width="2.5"/>
<path d="M743.8,657.8L757.3,693.3" stroke="#555555" stroke-width="1.4" />
<path d="M755.0,673.8L746.0,677.2" stroke="#585858" stroke-width="1.25" />
<path d="M696.4,514.1A101.8,101.8 0 0 1 819.2,570.1" stroke="#585858" stroke-width="1.25" />
<path d="M726.2,509.7L712.3,512.5L712.1,508.3Z" fill="#555555" stroke="none"/>
<path d="M767.6,518.5L781.0,523.2L779.0,526.9Z" fill="#555555" stroke="none"/>
<path d="M819.2,570.1L810.8,558.7L814.5,556.7Z" fill="#555555" stroke="none"/>
<path d="M702.3,635.4L770.9,563.6" stroke="#585858" stroke-width="1.25" />
<path d="M770.9,563.6L763.5,574.5L760.5,571.7Z" fill="#555555" stroke="none"/>
<text x="736.3" y="589.1" font-size="23"  text-anchor="start" transform="rotate(-47 736.3 589.1)" >D<tspan font-size="19" dy="2.5">1</tspan></text>
<text x="736.0" y="502.3" font-size="21.5"  text-anchor="start" >20<tspan font-size="15" dy="-3.5">°</tspan><tspan dy="3.5" font-size="1"> </tspan>30′</text>
<text x="800.0" y="537.0" font-size="21.5"  text-anchor="start" >45<tspan font-size="15" dy="-3.5">°</tspan><tspan dy="3.5" font-size="1"> </tspan></text>
<path d="M742.6,675.5V731.5M758.3,675.5V731.5" stroke="#585858" stroke-width="1.25" />
<path d="M717.3,724.6H727M774,724.6H790M742.6,724.6H758.3" stroke="#585858" stroke-width="1.25" />
<path d="M742.6,724.6L727.6,726.8L727.6,722.4Z" fill="#555555" stroke="none"/>
<path d="M758.3,724.6L773.3,722.4L773.3,726.8Z" fill="#555555" stroke="none"/>
<text x="776.5" y="720.5" font-size="23" font-style="italic" text-anchor="start" >d</text>
<path d="M867,573V585M867,601.2V620.5M867,636V659.2" stroke="#585858" stroke-width="1.25" />
<path d="M867.0,601.2L864.8,586.2L869.2,586.2Z" fill="#555555" stroke="none"/>
<path d="M867.0,620.5L869.2,635.5L864.8,635.5Z" fill="#555555" stroke="none"/>
<text x="862.5" y="654.5" font-size="23" font-style="italic" text-anchor="start" transform="rotate(-90 862.5 654.5)" >b</text>
<text x="738.8" y="772.0" font-size="22.5"  text-anchor="start" ><tspan font-style="italic">n</tspan>=8</text>
<text x="384" y="828" font-size="25.5" font-weight="500" style="fill:#5c5c5c" xml:space="preserve"><tspan letter-spacing="0">图 4-76</tspan><tspan dx="31">BH</tspan><tspan dx="6" letter-spacing="1.9">型标准伸缩焊接式万向联轴器</tspan></text>
</g>
</svg>
</body>
</html>
